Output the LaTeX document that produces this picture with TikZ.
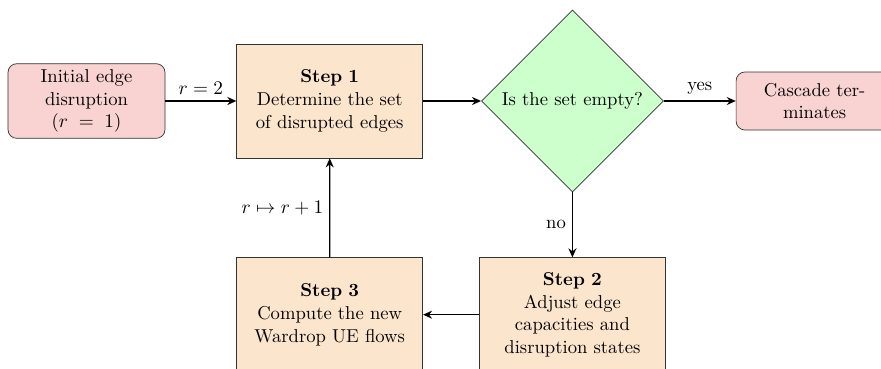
\documentclass[tikz,border=0pt]{standalone}
\usepackage{amsmath,amssymb}
\usepackage{tikz}
\usetikzlibrary{arrows.meta,positioning,shapes.geometric}
\definecolor{cascRose}{HTML}{F9D2D2}
\definecolor{cascPeach}{HTML}{FCE5CD}
\definecolor{cascMint}{HTML}{CCFFCC}

\begin{document}
\begin{tikzpicture}[font=\fontsize{10.6pt}{12.9pt}\selectfont,
  endbox/.style={fill=cascRose,draw=black!80,rounded corners=5pt,align=center,
                 minimum width=3.14cm},
  stepbox/.style={fill=cascPeach,draw=black!80,text width=3.2cm,align=center,
                  minimum width=3.72cm,minimum height=2.28cm},
  testbox/.style={diamond,fill=cascMint,draw=black!80,aspect=1,inner sep=1pt,
                  minimum width=3.64cm,minimum height=3.64cm},
  flow/.style={-{Stealth[length=1.8mm,width=1.6mm]},thick}]
  \useasboundingbox (0,0) rectangle (17.62,-7.36);

  % top row: start, step 1, test, end
  \node[endbox,minimum height=1.46cm] (init) at (1.73,-2.02)
    {Initial edge\\disruption\\($r\;=\;1$)};
  \node[stepbox,right=1.42cm of init] (step1)
    {\textbf{Step 1}\\Determine the set of disrupted edges};
  \node[testbox,right=1.16cm of step1] (empty) {Is the set empty?};
  \node[endbox,minimum height=1.16cm,right=1.44cm of empty] (stop)
    {Cascade ter-\\minates};

  % bottom row: steps 2 and 3
  \node[stepbox,below=1.3cm of empty] (step2)
    {\textbf{Step 2}\\Adjust edge capacities and disruption states};
  \node[stepbox,left=1.12cm of step2] (step3)
    {\textbf{Step 3}\\Compute the new Wardrop UE flows};

  \draw[flow] (init) -- node[above] {$r=2$} (step1);
  \draw[flow] (step1) -- (empty);
  \draw[flow] (empty) -- node[above] {yes} (stop);
  \draw[flow] (empty) -- node[left] {no} (step2);
  \draw[flow] (step2) -- (step3);
  \draw[flow] (step3) -- node[left] {$r\mapsto r+1$} (step1);
\end{tikzpicture}
\end{document}
